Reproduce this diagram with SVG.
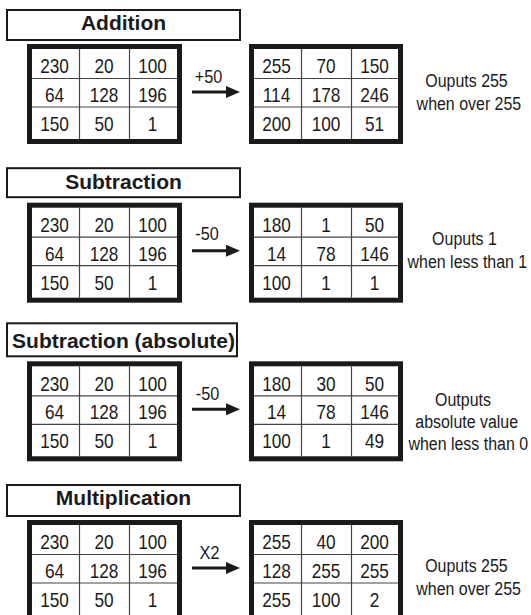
<svg xmlns="http://www.w3.org/2000/svg" width="531" height="615" viewBox="0 0 531 615">
<style>
.box{fill:#fff;stroke:#1a1a1a;stroke-width:2}
.t{font-family:"Liberation Sans",Arial,sans-serif;font-weight:bold;font-size:21px;text-anchor:middle;fill:#1a1a1a}
.grid{fill:#fff;stroke:#1a1a1a;stroke-width:5}
.cl{stroke:#444;stroke-width:1.2;fill:none}
.n{font-family:"Liberation Sans",Arial,sans-serif;font-size:21px;text-anchor:middle;fill:#1a1a1a;transform-box:fill-box;transform-origin:center;transform:scaleX(.82)}
.note{font-family:"Liberation Sans",Arial,sans-serif;font-size:19px;text-anchor:middle;fill:#1a1a1a;transform-box:fill-box;transform-origin:center;transform:scaleX(.84)}
.lbl{font-family:"Liberation Sans",Arial,sans-serif;font-size:18px;text-anchor:middle;fill:#1a1a1a;transform-box:fill-box;transform-origin:center;transform:scaleX(.9)}
.arr{stroke:#1a1a1a;stroke-width:3;fill:none}
</style>
<defs>
<marker id="ah" markerUnits="userSpaceOnUse" markerWidth="15" markerHeight="12" refX="1" refY="6" orient="auto">
<path d="M0,0 L14,6 L0,12 Z" fill="#1a1a1a"/>
</marker>
<g id="gridL">
<rect class="grid" x="29.5" y="46.5" width="150" height="95"/>
<path class="cl" d="M79.5,49V139M129.5,49V139M32,78.5H177M32,107H177"/>
</g>
<g id="gridR">
<rect class="grid" x="251.5" y="46.5" width="149" height="95"/>
<path class="cl" d="M301.5,49V139M351.5,49V139M254,78.5H398M254,107H398"/>
</g>
</defs>

<!-- Section 1: Addition -->
<g id="addition-title">
<rect class="box" x="7" y="10" width="233" height="30"/>
<text class="t" x="123.5" y="30">Addition</text>
</g>
<g id="addition-input">
<use href="#gridL"/>
<text class="n" x="54.5" y="73.5">230</text><text class="n" x="104" y="73.5">20</text><text class="n" x="152.5" y="73.5">100</text>
<text class="n" x="54.5" y="102">64</text><text class="n" x="104" y="102">128</text><text class="n" x="152.5" y="102">196</text>
<text class="n" x="54.5" y="131">150</text><text class="n" x="104" y="131">50</text><text class="n" x="152.5" y="131">1</text>
</g>
<g id="addition-output">
<use href="#gridR"/>
<text class="n" x="276.5" y="73.5">255</text><text class="n" x="326" y="73.5">70</text><text class="n" x="374.5" y="73.5">150</text>
<text class="n" x="276.5" y="102">114</text><text class="n" x="326" y="102">178</text><text class="n" x="374.5" y="102">246</text>
<text class="n" x="276.5" y="131">200</text><text class="n" x="326" y="131">100</text><text class="n" x="374.5" y="131">51</text>
</g>
<g id="addition-note">
<text class="note" x="466.5" y="87">Ouputs 255</text>
<text class="note" x="469" y="110.5">when over 255</text>
</g>

<!-- Section 2: Subtraction -->
<g transform="translate(0,158.7)">
<g id="subtraction-title">
<rect class="box" x="7" y="9.5" width="233" height="29"/>
<text class="t" x="123.5" y="30">Subtraction</text>
</g>
<g id="subtraction-input">
<use href="#gridL"/>
<text class="n" x="54.5" y="73.5">230</text><text class="n" x="104" y="73.5">20</text><text class="n" x="152.5" y="73.5">100</text>
<text class="n" x="54.5" y="102">64</text><text class="n" x="104" y="102">128</text><text class="n" x="152.5" y="102">196</text>
<text class="n" x="54.5" y="131">150</text><text class="n" x="104" y="131">50</text><text class="n" x="152.5" y="131">1</text>
</g>
<g id="subtraction-output">
<use href="#gridR"/>
<text class="n" x="276.5" y="73.5">180</text><text class="n" x="326" y="73.5">1</text><text class="n" x="374.5" y="73.5">50</text>
<text class="n" x="276.5" y="102">14</text><text class="n" x="326" y="102">78</text><text class="n" x="374.5" y="102">146</text>
<text class="n" x="276.5" y="131">100</text><text class="n" x="326" y="131">1</text><text class="n" x="374.5" y="131">1</text>
</g>
<g id="subtraction-note">
<text class="note" x="464.5" y="86">Ouputs 1</text>
<text class="note" x="467.5" y="109">when less than 1</text>
</g>
</g>

<!-- Section 3: Subtraction (absolute) -->
<g transform="translate(0,317.3)">
<g id="subtraction-abs-title">
<rect class="box" x="7" y="6" width="230" height="33"/>
<text class="t" x="123.5" y="31">Subtraction (absolute)</text>
</g>
<g id="subtraction-abs-input">
<use href="#gridL"/>
<text class="n" x="54.5" y="73.5">230</text><text class="n" x="104" y="73.5">20</text><text class="n" x="152.5" y="73.5">100</text>
<text class="n" x="54.5" y="102">64</text><text class="n" x="104" y="102">128</text><text class="n" x="152.5" y="102">196</text>
<text class="n" x="54.5" y="131">150</text><text class="n" x="104" y="131">50</text><text class="n" x="152.5" y="131">1</text>
</g>
<g id="subtraction-abs-output">
<use href="#gridR"/>
<text class="n" x="276.5" y="73.5">180</text><text class="n" x="326" y="73.5">30</text><text class="n" x="374.5" y="73.5">50</text>
<text class="n" x="276.5" y="102">14</text><text class="n" x="326" y="102">78</text><text class="n" x="374.5" y="102">146</text>
<text class="n" x="276.5" y="131">100</text><text class="n" x="326" y="131">1</text><text class="n" x="374.5" y="131">49</text>
</g>
<g id="subtraction-abs-note">
<text class="note" x="463" y="88.7">Outputs</text>
<text class="note" x="466.7" y="111">absolute value</text>
<text class="note" x="468.3" y="132.7">when less than 0</text>
</g>
</g>

<!-- Section 4: Multiplication -->
<g transform="translate(0,476)">
<g id="multiplication-title">
<rect class="box" x="7" y="9" width="233" height="31"/>
<text class="t" x="123.5" y="29">Multiplication</text>
</g>
<g id="multiplication-input">
<use href="#gridL"/>
<text class="n" x="54.5" y="73.5">230</text><text class="n" x="104" y="73.5">20</text><text class="n" x="152.5" y="73.5">100</text>
<text class="n" x="54.5" y="102">64</text><text class="n" x="104" y="102">128</text><text class="n" x="152.5" y="102">196</text>
<text class="n" x="54.5" y="131">150</text><text class="n" x="104" y="131">50</text><text class="n" x="152.5" y="131">1</text>
</g>
<g id="multiplication-output">
<use href="#gridR"/>
<text class="n" x="276.5" y="73.5">255</text><text class="n" x="326" y="73.5">40</text><text class="n" x="374.5" y="73.5">200</text>
<text class="n" x="276.5" y="102">128</text><text class="n" x="326" y="102">255</text><text class="n" x="374.5" y="102">255</text>
<text class="n" x="276.5" y="131">255</text><text class="n" x="326" y="131">100</text><text class="n" x="374.5" y="131">2</text>
</g>
<g id="multiplication-note">
<text class="note" x="466.4" y="95.7">Ouputs 255</text>
<text class="note" x="468.7" y="119">when over 255</text>
</g>
</g>

<!-- Connectors -->
<g id="connectors">
<line class="arr" x1="192" y1="92" x2="227" y2="92" marker-end="url(#ah)"/>
<text class="lbl" x="208.5" y="83">+50</text>
<line class="arr" x1="192" y1="250.7" x2="227" y2="250.7" marker-end="url(#ah)"/>
<text class="lbl" x="207" y="240">-50</text>
<line class="arr" x1="192" y1="409.3" x2="227" y2="409.3" marker-end="url(#ah)"/>
<text class="lbl" x="207.5" y="400">-50</text>
<line class="arr" x1="192" y1="568" x2="227" y2="568" marker-end="url(#ah)"/>
<text class="lbl" x="209.5" y="559">X2</text>
</g>
</svg>
